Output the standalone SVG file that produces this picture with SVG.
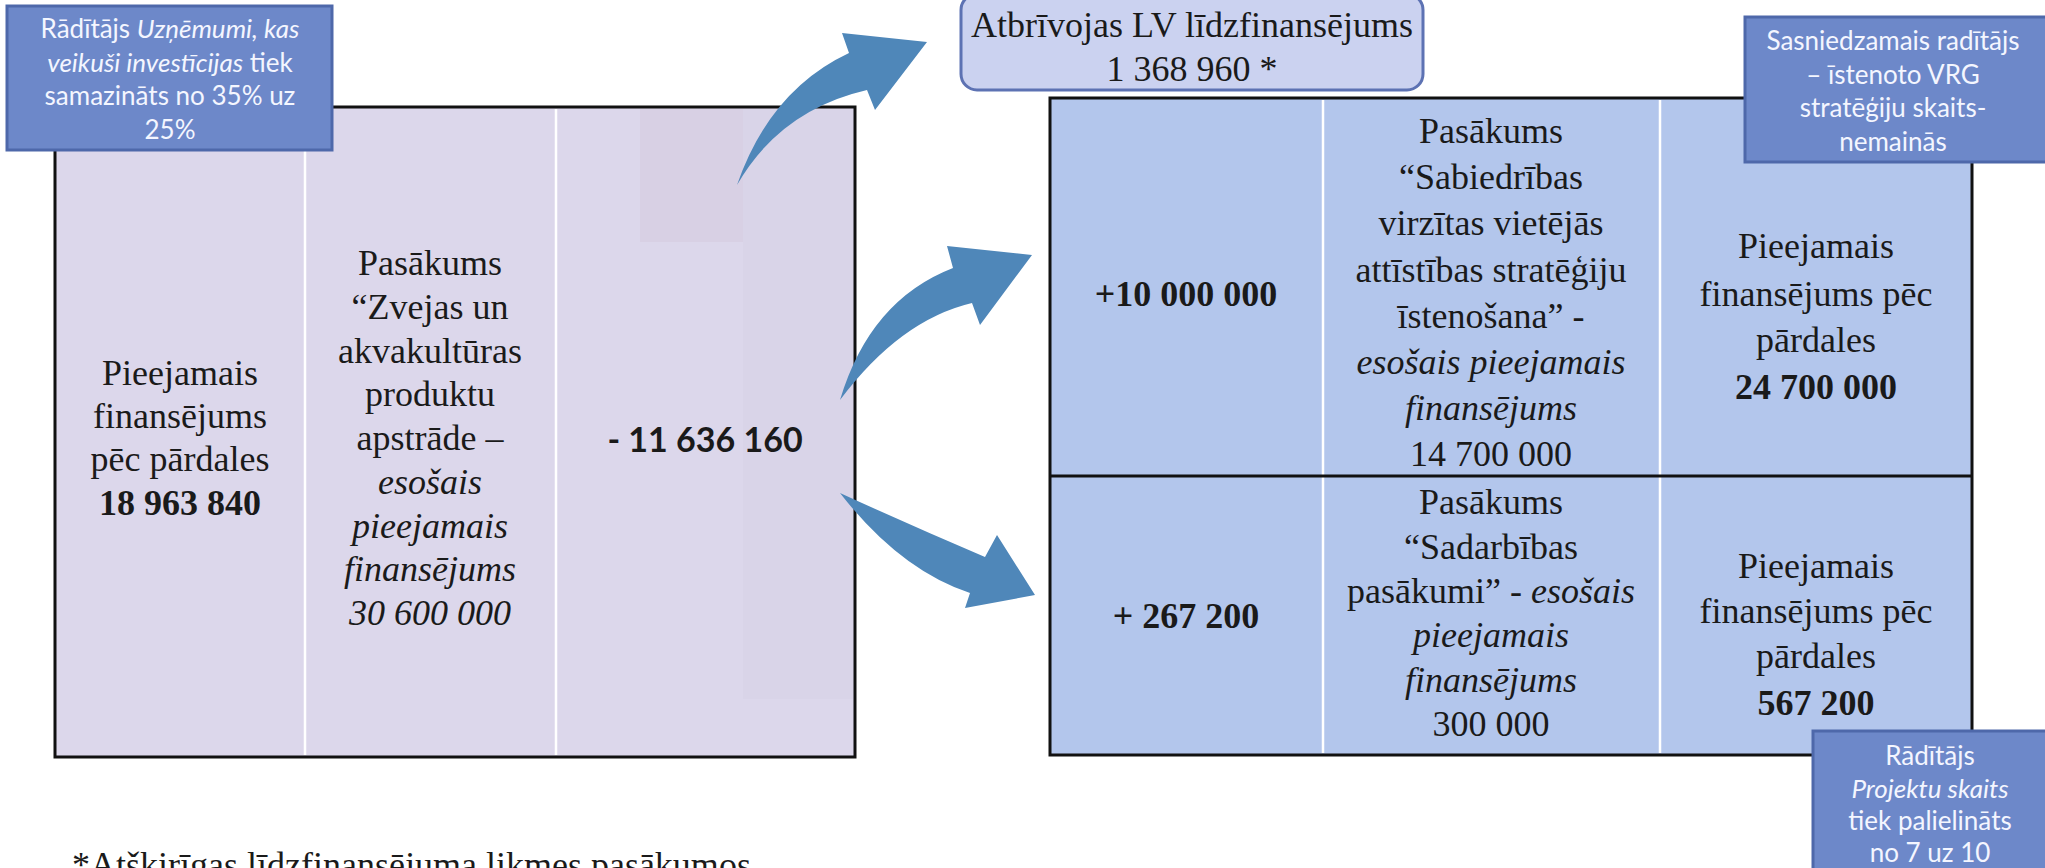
<svg xmlns="http://www.w3.org/2000/svg" width="2045" height="868" viewBox="0 0 2045 868">
<defs>
<style>
.s{font-family:"Liberation Serif","Times New Roman",serif;font-size:36px;fill:#1a1a1a;text-anchor:middle}
.b{font-weight:bold}
.i{font-style:italic}
.grid{stroke:#ffffff;stroke-width:2.5}
.frame{stroke:#111;stroke-width:3}
.ind{fill:#6d88c9;stroke:#4e68aa;stroke-width:3}
.it{font-family:Lato,"Open Sans","Liberation Sans",sans-serif;font-size:26px;fill:#f4f6ff;text-anchor:middle}
.arr{fill:#4f87b9}
</style>
</defs>
<rect width="2045" height="868" fill="#ffffff"/>

<g id="left-table">
<rect x="55" y="107" width="800" height="650" fill="#dcd7eb"/>
<rect x="640" y="109" width="103" height="133" fill="#d8d0e4"/>
<rect x="743" y="109" width="110" height="590" fill="#d9d4e8"/>
<line class="grid" x1="305" y1="109" x2="305" y2="755"/>
<line class="grid" x1="556" y1="109" x2="556" y2="755"/>
<rect x="55" y="107" width="800" height="650" fill="none" class="frame"/>
<text class="s" x="180"><tspan x="180" y="385">Pieejamais</tspan><tspan x="180" y="428">finansējums</tspan><tspan x="180" y="471">pēc pārdales</tspan><tspan x="180" y="515" class="b">18 963 840</tspan></text>
<text class="s" x="430"><tspan x="430" y="275">Pasākums</tspan><tspan x="430" y="319">“Zvejas un</tspan><tspan x="430" y="363">akvakultūras</tspan><tspan x="430" y="406">produktu</tspan><tspan x="430" y="450">apstrāde –</tspan><tspan x="430" y="494" class="i">esošais</tspan><tspan x="430" y="538" class="i">pieejamais</tspan><tspan x="430" y="581" class="i">finansējums</tspan><tspan x="430" y="625" class="i">30 600 000</tspan></text>
<text x="705" y="452" font-family="Lato,'Open Sans','Liberation Sans',sans-serif" font-size="34" font-weight="bold" fill="#1a1a1a" text-anchor="middle">- 11 636 160</text>
</g>

<g id="right-table">
<rect x="1050" y="98" width="922" height="657" fill="#b3c6ec"/>
<line class="grid" x1="1323" y1="100" x2="1323" y2="753"/>
<line class="grid" x1="1660" y1="100" x2="1660" y2="753"/>
<line class="frame" x1="1050" y1="476" x2="1972" y2="476"/>
<rect x="1050" y="98" width="922" height="657" fill="none" class="frame"/>
<text class="s b" x="1186" y="306">+10 000 000</text>
<text class="s b" x="1186" y="628">+ 267 200</text>
<text class="s" x="1491"><tspan x="1491" y="143">Pasākums</tspan><tspan x="1491" y="189">“Sabiedrības</tspan><tspan x="1491" y="235">virzītas vietējās</tspan><tspan x="1491" y="282">attīstības stratēģiju</tspan><tspan x="1491" y="328">īstenošana” -</tspan><tspan x="1491" y="374" class="i">esošais pieejamais</tspan><tspan x="1491" y="420" class="i">finansējums</tspan><tspan x="1491" y="466">14 700 000</tspan></text>
<text class="s" x="1491"><tspan x="1491" y="514">Pasākums</tspan><tspan x="1491" y="559">“Sadarbības</tspan><tspan x="1491" y="603">pasākumi” - <tspan class="i">esošais</tspan></tspan><tspan x="1491" y="647" class="i">pieejamais</tspan><tspan x="1491" y="692" class="i">finansējums</tspan><tspan x="1491" y="736">300 000</tspan></text>
<text class="s" x="1816"><tspan x="1816" y="258">Pieejamais</tspan><tspan x="1816" y="306">finansējums pēc</tspan><tspan x="1816" y="352">pārdales</tspan><tspan x="1816" y="399" class="b">24 700 000</tspan></text>
<text class="s" x="1816"><tspan x="1816" y="578">Pieejamais</tspan><tspan x="1816" y="623">finansējums pēc</tspan><tspan x="1816" y="668">pārdales</tspan><tspan x="1816" y="715" class="b">567 200</tspan></text>
</g>

<g id="freed-cofinancing">
<rect x="961" y="-6" width="462" height="96" rx="16" fill="#cbd2f0" stroke="#5d72b3" stroke-width="3"/>
<text class="s" x="1192"><tspan x="1192" y="37">Atbrīvojas LV līdzfinansējums</tspan><tspan x="1192" y="81">1 368 960 *</tspan></text>
</g>

<g id="connectors">
<path class="arr" d="M737,185 Q770,90 849,53 L842,33 L927,42 L875,110 L867,90 Q780,110 737,185 Z"/>
<path class="arr" d="M840,400 Q870,300 953,268 L947,246 L1032,255 L980,325 L972,303 Q900,320 840,400 Z"/>
<path class="arr" d="M840,493 Q910,525 985,557 L997,535 L1035,595 L965,608 L970,593 Q900,570 840,493 Z"/>
</g>

<g id="indicator-enterprises">
<rect class="ind" x="7" y="6" width="325" height="144"/>
<text class="it"><tspan x="170" y="38">Rādītājs <tspan font-style="italic">Uzņēmumi, kas</tspan></tspan><tspan x="170" y="72"><tspan font-style="italic">veikuši investīcijas</tspan> tiek</tspan><tspan x="170" y="105">samazināts no 35% uz</tspan><tspan x="170" y="139">25%</tspan></text>
</g>

<g id="indicator-strategies">
<rect class="ind" x="1745" y="17" width="305" height="145"/>
<text class="it"><tspan x="1893" y="50">Sasniedzamais radītājs</tspan><tspan x="1893" y="84">– īstenoto VRG</tspan><tspan x="1893" y="117">stratēģiju skaits-</tspan><tspan x="1893" y="151">nemainās</tspan></text>
</g>

<g id="indicator-projects">
<rect class="ind" x="1813" y="731" width="240" height="150"/>
<text class="it"><tspan x="1930" y="765">Rādītājs</tspan><tspan x="1930" y="798" font-style="italic">Projektu skaits</tspan><tspan x="1930" y="830">tiek palielināts</tspan><tspan x="1930" y="862">no 7 uz 10</tspan></text>
</g>

<g id="footnote">
<text x="72" y="877" font-family="'Liberation Serif','Times New Roman',serif" font-size="36" fill="#1a1a1a">*Atšķirīgas līdzfinansējuma likmes pasākumos</text>
</g>
</svg>
